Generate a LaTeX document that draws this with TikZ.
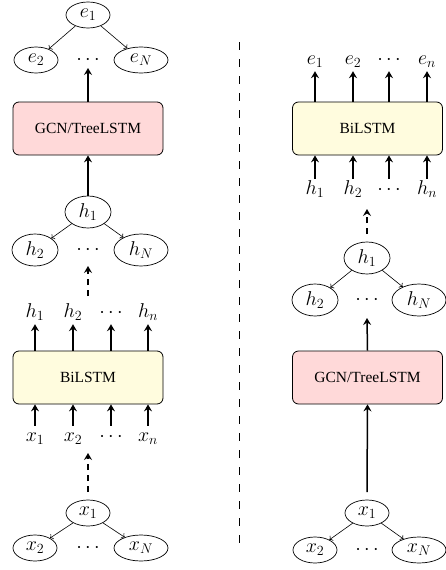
\RequirePackage{fix-cm}
\documentclass[tikz,border=0pt]{standalone}
\usepackage{fontspec}
\setmainfont{Liberation Serif}
\usetikzlibrary{shapes.geometric,arrows.meta}
\definecolor{gcnfill}{RGB}{255,217,217}
\definecolor{lstmfill}{RGB}{255,252,222}
\begin{document}
\begin{tikzpicture}[x=1pt,y=-1pt,
  font=\fontsize{20}{24}\selectfont,
  tnode/.style={ellipse,draw,line width=0.7pt,inner sep=0pt,minimum width=44pt,minimum height=26pt},
  twide/.style={tnode,minimum width=54pt},
  hnode/.style={tnode,minimum width=46pt,minimum height=32pt},
  hwide/.style={hnode,minimum width=54pt},
  tdots/.style={inner sep=0pt},
  tedge/.style={-{To[length=3pt,width=6pt]},line width=0.6pt},
  big/.style={-{Stealth[length=7pt,width=8pt,inset=2.5pt]},line width=1.5pt},
  bigdash/.style={big,dash pattern=on 6pt off 5pt},
  lbl/.style={inner sep=3pt,text height=12pt,text depth=4pt},
  boxgcn/.style={rectangle,draw,line width=0.8pt,rounded corners=6pt,fill=gcnfill,minimum width=150pt,minimum height=53pt,font=\fontsize{15.5}{18}\selectfont},
  boxlstm/.style={boxgcn,fill=lstmfill}]
\useasboundingbox (0,0) rectangle (445,570);

% ---------------- left column ----------------
\node[tnode] (Le1) at (88,15) {$e_1$};
\node[tnode] (Le2) at (36,60) {$e_2$};
\node[twide] (LeN) at (141,60) {$e_N$};
\node[tdots] (Led) at (88,60) {$\cdots$};
\draw[tedge] (Le1) -- (Le2);
\draw[tedge] (Le1) -- (LeN);
\coordinate (Ledin) at (88,68);

\node[boxgcn] (Lg) at (88,128.5) {GCN/TreeLSTM};
\draw[big] (Lg.north) -- (Ledin);

\node[hnode] (Lh1) at (88,212) {$h_1$};
\node[hnode] (Lh2) at (35,250) {$h_2$};
\node[hwide] (LhN) at (141,250) {$h_N$};
\node[tdots] (Lhd) at (88,250) {$\cdots$};
\draw[tedge] (Lh1) -- (Lh2);
\draw[tedge] (Lh1) -- (LhN);
\draw[big] (Lh1) -- (Lg);
\coordinate (Lhin) at (88,266);
\coordinate (Lhout) at (88,296);
\draw[bigdash] (Lhout) -- (Lhin);

\node[lbl] (Lo1) at (35,313) {$h_1$};
\node[lbl] (Lo2) at (73,313) {$h_2$};
\node[lbl] (Lo3) at (111,313) {$\cdots$};
\node[lbl] (Lo4) at (148,313) {$h_n$};

\node[boxlstm] (Lb) at (88,377.5) {BiLSTM};
\foreach \i in {1,...,4} {\draw[big] (Lb.north -| Lo\i) -- (Lo\i.south);}

\node[lbl] (Li1) at (35,437) {$x_1$};
\node[lbl] (Li2) at (73,437) {$x_2$};
\node[lbl] (Li3) at (111,437) {$\cdots$};
\node[lbl] (Li4) at (148,437) {$x_n$};
\foreach \i in {1,...,4} {\draw[big] (Li\i.north) -- (Lb.south -| Li\i);}

\coordinate (Lxout) at (88,492);
\coordinate (Lxin) at (88,453);
\draw[bigdash] (Lxout) -- (Lxin);

\node[tnode] (Lx1) at (88,513) {$x_1$};
\node[tnode] (Lx2) at (35,548) {$x_2$};
\node[twide] (LxN) at (141,548) {$x_N$};
\node[tdots] (Lxd) at (88,548) {$\cdots$};
\draw[tedge] (Lx1) -- (Lx2);
\draw[tedge] (Lx1) -- (LxN);

% ---------------- separator ----------------
\coordinate (sepA) at (239,42);
\coordinate (sepB) at (239,545);
\draw[line width=0.8pt,dash pattern=on 8pt off 9pt] (sepA) -- (sepB);

% ---------------- right column ----------------
\node[lbl] (Re1) at (315,60) {$e_1$};
\node[lbl] (Re2) at (353,60) {$e_2$};
\node[lbl] (Re3) at (389,60) {$\cdots$};
\node[lbl] (Re4) at (427,60) {$e_n$};

\node[boxlstm] (Rb) at (367.5,128.5) {BiLSTM};
\foreach \i in {1,...,4} {\draw[big] (Rb.north -| Re\i) -- (Re\i.south);}

\node[lbl] (Ri1) at (315,190) {$h_1$};
\node[lbl] (Ri2) at (353,190) {$h_2$};
\node[lbl] (Ri3) at (389,190) {$\cdots$};
\node[lbl] (Ri4) at (427,190) {$h_n$};
\foreach \i in {1,...,4} {\draw[big] (Ri\i.north) -- (Rb.south -| Ri\i);}

\coordinate (Rdout) at (367,234);
\coordinate (Rdin) at (367,209);
\draw[bigdash] (Rdout) -- (Rdin);

\node[hnode] (Rh1) at (367,258) {$h_1$};
\node[hnode] (Rh2) at (315,300) {$h_2$};
\node[hwide] (RhN) at (419,300) {$h_N$};
\node[tdots] (Rhd) at (367,300) {$\cdots$};
\draw[tedge] (Rh1) -- (Rh2);
\draw[tedge] (Rh1) -- (RhN);
\coordinate (Rhin) at (367,318);

\node[boxgcn] (Rg) at (367.5,377.5) {GCN/TreeLSTM};
\draw[big] (Rg.north) -- (Rhin);

\coordinate (Rxout) at (367,492);
\draw[big] (Rxout) -- (Rg.south);

\node[tnode] (Rx1) at (367,513) {$x_1$};
\node[tnode] (Rx2) at (315,550) {$x_2$};
\node[twide] (RxN) at (419,550) {$x_N$};
\node[tdots] (Rxd) at (367,550) {$\cdots$};
\draw[tedge] (Rx1) -- (Rx2);
\draw[tedge] (Rx1) -- (RxN);
\end{tikzpicture}
\end{document}
